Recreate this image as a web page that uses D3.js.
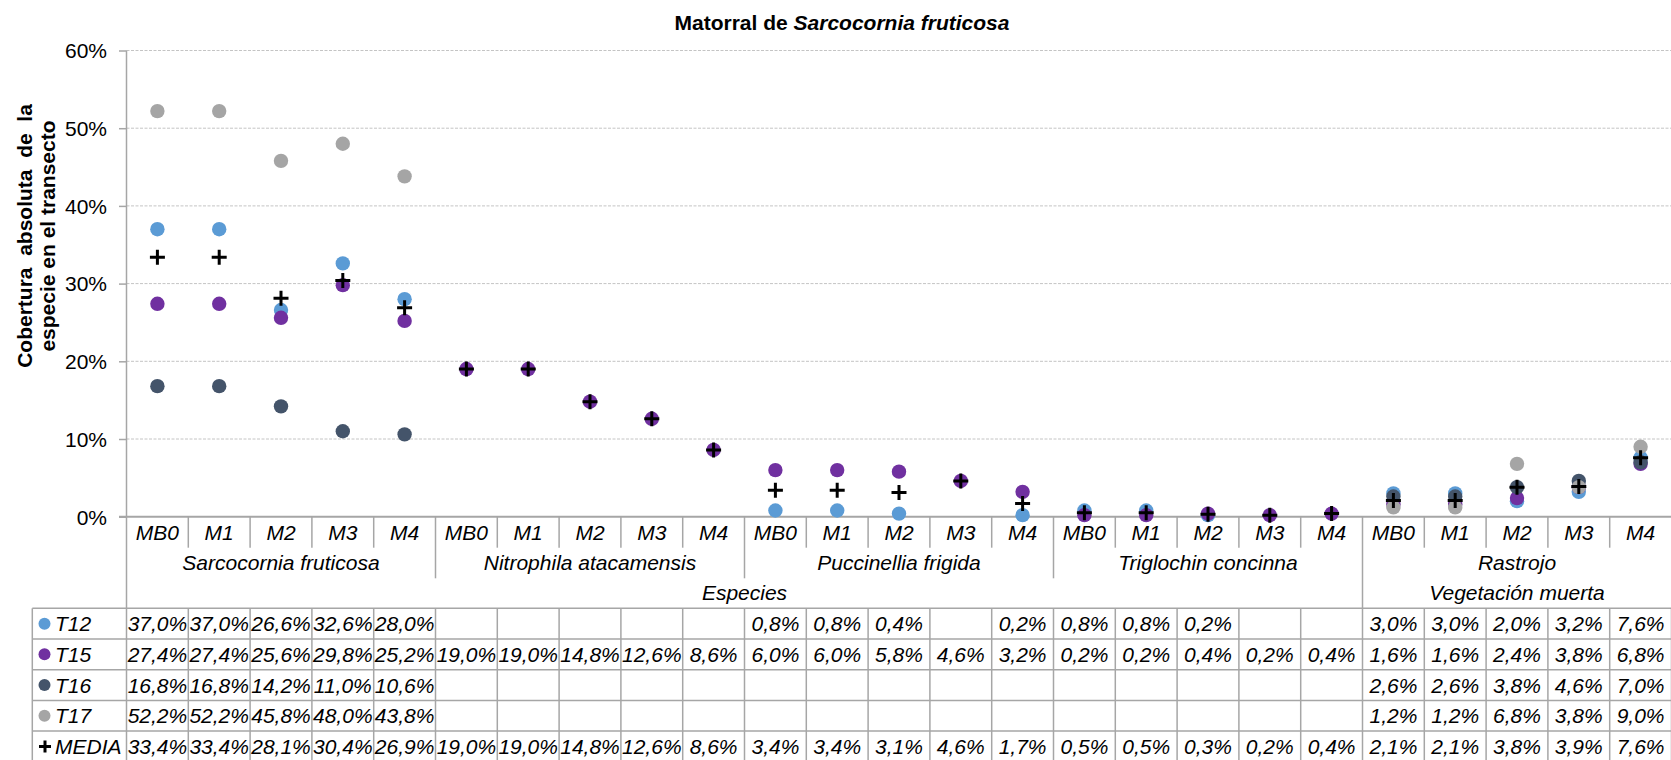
<!DOCTYPE html>
<html>
<head>
<meta charset="utf-8">
<script src="https://cdn.jsdelivr.net/npm/d3@7"></script>
<style>
  body { margin: 0; background: #fff; }
  svg { display: block; font-family: "Liberation Sans", Arial, sans-serif; }
</style>
</head>
<body>
<svg id="chart" width="1671" height="760"></svg>
<script>
// categories (3 levels)
const muestreos = ['MB0', 'M1', 'M2', 'M3', 'M4'];
const especies = ['Sarcocornia fruticosa', 'Nitrophila atacamensis', 'Puccinellia frigida', 'Triglochin concinna', 'Rastrojo'];
const grupos = ['Especies', 'Vegetación muerta'];
const gruposSize = [4, 1]; // number of species per group

// series values (%), null = empty cell
const seriesNames = ['T12', 'T15', 'T16', 'T17'];
const seriesColors = ['#5b9bd5', '#7030a0', '#44546a', '#a5a5a5'];
const t12 = [37.0, 37.0, 26.6, 32.6, 28.0,  null, null, null, null, null,  0.8, 0.8, 0.4, null, 0.2,  0.8, 0.8, 0.2, null, null,  3.0, 3.0, 2.0, 3.2, 7.6];
const t15 = [27.4, 27.4, 25.6, 29.8, 25.2,  19.0, 19.0, 14.8, 12.6, 8.6,  6.0, 6.0, 5.8, 4.6, 3.2,  0.2, 0.2, 0.4, 0.2, 0.4,  1.6, 1.6, 2.4, 3.8, 6.8];
const t16 = [16.8, 16.8, 14.2, 11.0, 10.6,  null, null, null, null, null,  null, null, null, null, null,  null, null, null, null, null,  2.6, 2.6, 3.8, 4.6, 7.0];
const t17 = [52.2, 52.2, 45.8, 48.0, 43.8,  null, null, null, null, null,  null, null, null, null, null,  null, null, null, null, null,  1.2, 1.2, 6.8, 3.8, 9.0];
const media = [33.4, 33.4, 28.1, 30.4, 26.9,  19.0, 19.0, 14.8, 12.6, 8.6,  3.4, 3.4, 3.1, 4.6, 1.7,  0.5, 0.5, 0.3, 0.2, 0.4,  2.1, 2.1, 3.8, 3.9, 7.6];
const yTicks = [0, 10, 20, 30, 40, 50, 60];

const seriesValues = [t12, t15, t16, t17];

// flat category list
const cats = [];
especies.forEach((e, si) => muestreos.forEach(m => cats.push({ m: m, sp: si })));

const svg = d3.select('#chart');
const plotTop = 50.5, plotBottom = 516.7, plotLeft = 126.5, plotRight = 1671.5;
const lineColor = '#a6a6a6';
const fs = 21;

const x = d3.scaleBand().domain(d3.range(cats.length)).range([plotLeft, plotRight]);
const y = d3.scaleLinear().domain([0, 60]).range([plotBottom, plotTop]);
const bw = x.bandwidth();
const edge = i => plotLeft + i * bw;

const fmt = v => v.toFixed(1).replace('.', ',') + '%';

// title
svg.append('text')
  .attr('x', 842).attr('y', 30)
  .attr('text-anchor', 'middle')
  .attr('font-size', fs).attr('font-weight', 'bold')
  .call(t => {
    t.append('tspan').text('Matorral de ');
    t.append('tspan').attr('font-style', 'italic').text('Sarcocornia fruticosa');
  });

// gridlines
svg.append('g').selectAll('line')
  .data(yTicks.filter(d => d > 0))
  .enter().append('line')
  .attr('x1', plotLeft).attr('x2', plotRight)
  .attr('y1', d => y(d)).attr('y2', d => y(d))
  .attr('stroke', '#c4c4c4').attr('stroke-width', 1)
  .attr('stroke-dasharray', '3,1.5');

// y axis
const yAxis = svg.append('g')
  .attr('transform', `translate(${plotLeft},0)`)
  .call(d3.axisLeft(y).tickValues(yTicks).tickFormat(d => d + '%').tickSize(7.5).tickPadding(12));
yAxis.select('.domain').remove();
yAxis.selectAll('.tick line').attr('stroke', lineColor).attr('stroke-width', 1.5);
yAxis.selectAll('.tick text')
  .attr('font-size', fs).attr('fill', '#000')
  .attr('font-family', '"Liberation Sans", Arial, sans-serif')
  .attr('dy', '0.35em');

// axis line (runs down to the table)
svg.append('line')
  .attr('x1', plotLeft).attr('x2', plotLeft)
  .attr('y1', plotTop).attr('y2', 608.3)
  .attr('stroke', lineColor).attr('stroke-width', 1.5);

// 0% baseline
svg.append('line')
  .attr('x1', plotLeft - 7.5).attr('x2', plotRight)
  .attr('y1', plotBottom).attr('y2', plotBottom)
  .attr('stroke', lineColor).attr('stroke-width', 2);

// y title
const yTitle = svg.append('text')
  .attr('transform', 'translate(0,236) rotate(-90)')
  .attr('text-anchor', 'middle')
  .attr('font-size', fs).attr('font-weight', 'bold')
  .style('white-space', 'pre');
yTitle.append('tspan').attr('x', 0).attr('y', 32).text('Cobertura  absoluta  de  la');
yTitle.append('tspan').attr('x', 0).attr('y', 55).text('especie en el transecto');

// category separators
const sepG = svg.append('g').attr('stroke', lineColor).attr('stroke-width', 1.5);
d3.range(1, cats.length).forEach(i => {
  let y2 = 547.7;
  if (i % muestreos.length === 0) y2 = 578.3;
  if (i === gruposSize[0] * muestreos.length) y2 = 608.3;
  sepG.append('line')
    .attr('x1', edge(i)).attr('x2', edge(i))
    .attr('y1', plotBottom).attr('y2', y2);
});

// category labels
svg.append('g').selectAll('text')
  .data(cats)
  .enter().append('text')
  .attr('x', (d, i) => x(i) + bw / 2)
  .attr('y', 540)
  .attr('text-anchor', 'middle')
  .attr('font-size', fs).attr('font-style', 'italic')
  .text(d => d.m);

// species labels
svg.append('g').selectAll('text')
  .data(especies)
  .enter().append('text')
  .attr('x', (d, i) => edge(i * muestreos.length) + bw * muestreos.length / 2)
  .attr('y', 570)
  .attr('text-anchor', 'middle')
  .attr('font-size', fs).attr('font-style', 'italic')
  .text(d => d);

// group labels
let gStart = 0;
grupos.forEach((g, gi) => {
  const n = gruposSize[gi] * muestreos.length;
  svg.append('text')
    .attr('x', edge(gStart) + bw * n / 2)
    .attr('y', 600)
    .attr('text-anchor', 'middle')
    .attr('font-size', fs).attr('font-style', 'italic')
    .text(g);
  gStart += n;
});

// points
seriesValues.forEach((vals, si) => {
  svg.append('g').selectAll('circle')
    .data(vals.map((v, i) => ({ v: v, i: i })).filter(d => d.v !== null))
    .enter().append('circle')
    .attr('cx', d => x(d.i) + bw / 2)
    .attr('cy', d => y(d.v))
    .attr('r', 7.2)
    .attr('fill', seriesColors[si]);
});

// media crosses
const plus = 'M-7.5,0H7.5M0,-7.5V7.5';
svg.append('g').selectAll('path')
  .data(media)
  .enter().append('path')
  .attr('transform', (d, i) => `translate(${x(i) + bw / 2},${y(d)})`)
  .attr('d', plus)
  .attr('stroke', '#000').attr('stroke-width', 3);

// data table
const tableTop = 608.3, rowH = 30.7, tableLeft = 32.3;
const rows = seriesNames.map((n, i) => ({ name: n, vals: seriesValues[i], color: seriesColors[i] }));
rows.push({ name: 'MEDIA', vals: media, color: null });

const tbl = svg.append('g');
d3.range(rows.length + 1).forEach(r => {
  tbl.append('line')
    .attr('x1', tableLeft).attr('x2', plotRight)
    .attr('y1', tableTop + r * rowH).attr('y2', tableTop + r * rowH)
    .attr('stroke', lineColor).attr('stroke-width', 1.5);
});
[tableLeft].concat(d3.range(cats.length + 1).map(edge)).forEach(xx => {
  tbl.append('line')
    .attr('x1', xx).attr('x2', xx)
    .attr('y1', tableTop).attr('y2', tableTop + rows.length * rowH)
    .attr('stroke', lineColor).attr('stroke-width', 1.5);
});

rows.forEach((row, r) => {
  const cy = tableTop + r * rowH + rowH / 2;
  if (row.color) {
    tbl.append('circle').attr('cx', 44.5).attr('cy', cy).attr('r', 6).attr('fill', row.color);
  } else {
    tbl.append('path').attr('transform', `translate(45,${cy})`)
      .attr('d', 'M-6,0H6M0,-6V6').attr('stroke', '#000').attr('stroke-width', 3);
  }
  tbl.append('text')
    .attr('x', 55).attr('y', cy + 7.5)
    .attr('font-size', fs).attr('font-style', 'italic')
    .text(row.name);
  row.vals.forEach((v, i) => {
    if (v === null) return;
    tbl.append('text')
      .attr('x', x(i) + bw / 2).attr('y', cy + 7.5)
      .attr('text-anchor', 'middle')
      .attr('font-size', fs).attr('font-style', 'italic')
      .text(fmt(v));
  });
});
</script>
</body>
</html>
